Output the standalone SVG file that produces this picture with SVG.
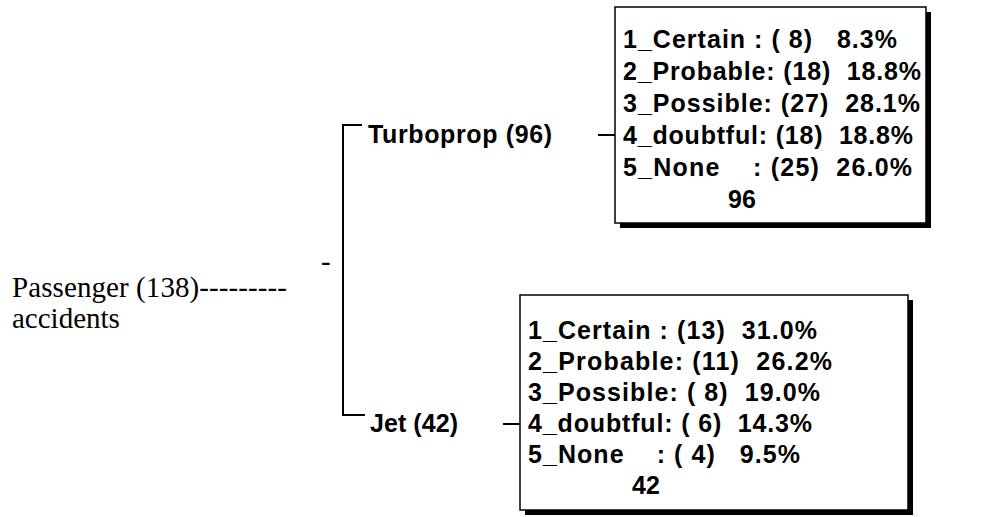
<svg xmlns="http://www.w3.org/2000/svg" width="1008" height="517" viewBox="0 0 1008 517">
  <style>
    .serif { font-family: "Liberation Serif", "Times New Roman", serif; font-size: 29px; fill: #000; }
    .bold { font-family: "Liberation Sans", Arial, sans-serif; font-weight: bold; font-size: 25px; fill: #000; white-space: pre; }
    .box { fill: #fff; stroke: #000; stroke-width: 1.5; }
    .shadow { fill: #000; }
    .wire { fill: none; stroke: #000; stroke-width: 2; }
  </style>

  <rect width="1008" height="517" fill="#fff"/>

  <!-- root node -->
  <g id="root">
    <text class="serif" x="12" y="297" textLength="275" lengthAdjust="spacing">Passenger (138)---------</text>
    <text class="serif" x="12" y="328">accidents</text>
    <text class="serif" x="321" y="271">-</text>
  </g>

  <!-- tree connectors -->
  <g id="connectors">
    <polyline class="wire" points="362,125 343,125 343,415 365,415"/>
    <line class="wire" x1="598" y1="135" x2="615" y2="135"/>
    <line class="wire" x1="503" y1="424" x2="520" y2="424"/>
  </g>

  <!-- branch labels -->
  <g id="turboprop">
    <text class="bold" x="368" y="143" textLength="184" lengthAdjust="spacing">Turboprop (96)</text>
  </g>
  <g id="jet">
    <text class="bold" x="370" y="432" textLength="88" lengthAdjust="spacing">Jet (42)</text>
  </g>

  <!-- class distribution for turboprop aircraft -->
  <g id="turboprop-box">
    <rect class="shadow" x="620" y="223" width="311" height="5"/>
    <rect class="shadow" x="926" y="12" width="5" height="216"/>
    <rect class="box" x="615" y="7" width="311" height="216"/>
    <text class="bold" x="623" y="48" textLength="274" lengthAdjust="spacing">1_Certain : ( 8)   8.3%</text>
    <text class="bold" x="623" y="80" textLength="298" lengthAdjust="spacing">2_Probable: (18)  18.8%</text>
    <text class="bold" x="623" y="112" textLength="297" lengthAdjust="spacing">3_Possible: (27)  28.1%</text>
    <text class="bold" x="623" y="144" textLength="290" lengthAdjust="spacing">4_doubtful: (18)  18.8%</text>
    <text class="bold" x="623" y="176" textLength="289" lengthAdjust="spacing">5_None    : (25)  26.0%</text>
    <text class="bold" x="728" y="208">96</text>
  </g>

  <!-- class distribution for jet aircraft -->
  <g id="jet-box">
    <rect class="shadow" x="525" y="510" width="388" height="5"/>
    <rect class="shadow" x="908" y="300" width="5" height="215"/>
    <rect class="box" x="520" y="295" width="388" height="215"/>
    <text class="bold" x="528" y="339" textLength="289" lengthAdjust="spacing">1_Certain : (13)  31.0%</text>
    <text class="bold" x="528" y="370" textLength="304" lengthAdjust="spacing">2_Probable: (11)  26.2%</text>
    <text class="bold" x="528" y="401" textLength="292" lengthAdjust="spacing">3_Possible: ( 8)  19.0%</text>
    <text class="bold" x="528" y="432" textLength="284" lengthAdjust="spacing">4_doubtful: ( 6)  14.3%</text>
    <text class="bold" x="528" y="463" textLength="272" lengthAdjust="spacing">5_None    : ( 4)   9.5%</text>
    <text class="bold" x="632" y="494">42</text>
  </g>
</svg>
